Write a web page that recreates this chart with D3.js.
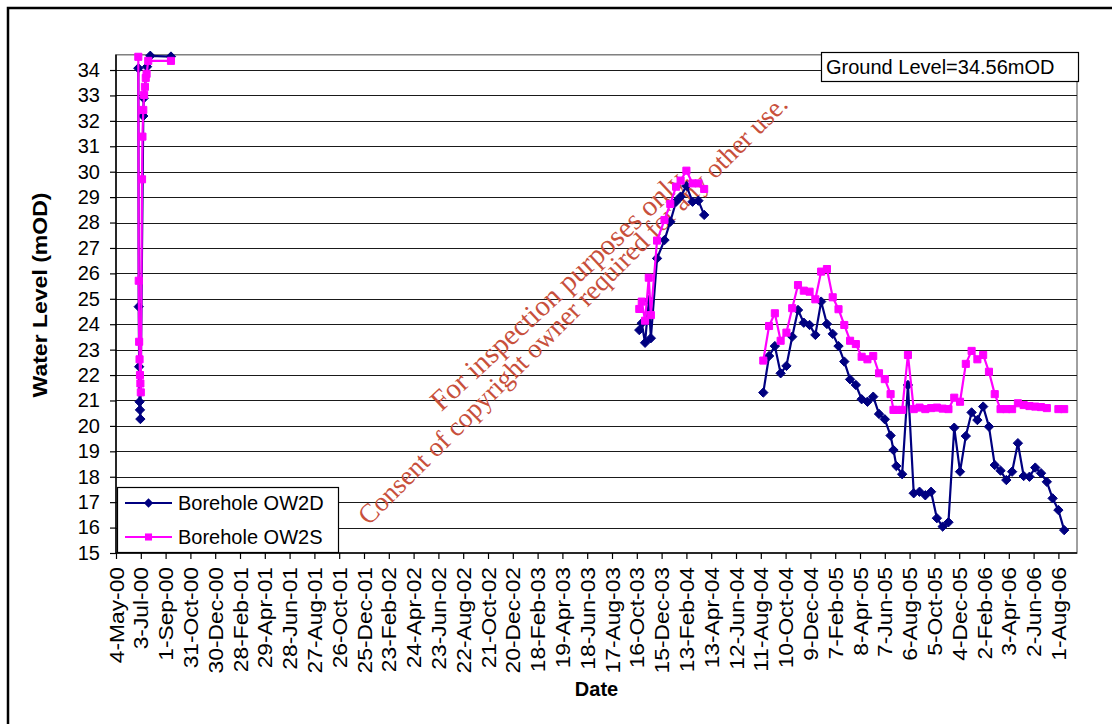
<!DOCTYPE html>
<html>
<head>
<meta charset="utf-8">
<script src="https://cdn.jsdelivr.net/npm/d3@7"></script>
<style>
  html, body { margin: 0; padding: 0; background: #fff; }
  svg { display: block; }
</style>
</head>
<body>
<svg id="chart" width="1112" height="724"></svg>
<script>
// ---------------- DATA ----------------
const xTickLabels = ["4-May-00","3-Jul-00","1-Sep-00","31-Oct-00","30-Dec-00","28-Feb-01","29-Apr-01","28-Jun-01","27-Aug-01","26-Oct-01","25-Dec-01","23-Feb-02","24-Apr-02","23-Jun-02","22-Aug-02","21-Oct-02","20-Dec-02","18-Feb-03","19-Apr-03","18-Jun-03","17-Aug-03","16-Oct-03","15-Dec-03","13-Feb-04","13-Apr-04","12-Jun-04","11-Aug-04","10-Oct-04","9-Dec-04","7-Feb-05","8-Apr-05","7-Jun-05","6-Aug-05","5-Oct-05","4-Dec-05","2-Feb-06","3-Apr-06","2-Jun-06","1-Aug-06"];
const yTicks = [15,16,17,18,19,20,21,22,23,24,25,26,27,28,29,30,31,32,33,34];
const xDomain = ["2000-05-04", "2006-09-15"];
const yDomain = [15, 34.6];

// Borehole OW2D (deep)
const ow2dDates = [
  "2000-06-27","2000-06-28","2000-06-29","2000-06-30","2000-07-01","2000-07-02","2000-07-09","2000-07-10","2000-07-18","2000-07-26","2000-09-14",
  "2002-01-01",
  "2003-10-22","2003-10-28","2003-11-05","2003-11-14","2003-11-19","2003-12-04","2003-12-22","2004-01-05","2004-01-19","2004-01-30","2004-02-13","2004-02-28","2004-03-13","2004-03-27",
  "2004-06-01",
  "2004-08-17","2004-08-31","2004-09-14","2004-09-28","2004-10-12","2004-10-26","2004-11-09","2004-11-23","2004-12-07","2004-12-21",
  "2005-01-04","2005-01-18","2005-02-01","2005-02-15","2005-03-01","2005-03-15","2005-03-29","2005-04-12","2005-04-26","2005-05-10",
  "2005-05-24","2005-06-07","2005-06-21","2005-06-28","2005-07-05","2005-07-19","2005-08-02","2005-08-16","2005-08-30","2005-09-13",
  "2005-09-27","2005-10-11","2005-10-25","2005-11-08","2005-11-22","2005-12-06","2005-12-20","2006-01-03","2006-01-17","2006-01-31",
  "2006-02-14","2006-02-28","2006-03-14","2006-03-28","2006-04-11","2006-04-25","2006-05-09","2006-05-23","2006-06-06","2006-06-20",
  "2006-07-04","2006-07-18","2006-08-01","2006-08-15"
];
const ow2dValues = [
  34.07,24.69,22.33,20.95,20.63,20.27,32.19,32.89,34.13,34.56,34.53,
  null,
  23.77,24.04,23.27,24.95,23.45,26.59,27.31,28.03,28.82,29.02,29.44,28.82,28.86,28.30,
  null,
  21.31,22.75,23.14,22.07,22.36,23.51,24.56,24.06,23.97,23.58,
  24.89,24.01,23.62,23.14,22.53,21.83,21.61,21.05,20.95,21.15,
  20.47,20.26,19.62,19.05,18.42,18.10,21.61,17.35,17.41,17.27,
  17.41,16.37,16.04,16.21,19.93,18.20,19.60,20.53,20.23,20.76,
  19.97,18.46,18.24,17.87,18.20,19.32,18.03,18.00,18.36,18.14,
  17.80,17.15,16.69,15.90
];

// Borehole OW2S (shallow)
const ow2sDates = [
  "2000-06-27","2000-06-28","2000-06-29","2000-06-30","2000-07-01","2000-07-02","2000-07-03","2000-07-06","2000-07-07","2000-07-09","2000-07-11","2000-07-13","2000-07-15","2000-07-17","2000-07-21","2000-09-14",
  "2002-01-01",
  "2003-10-22","2003-10-28","2003-11-05","2003-11-14","2003-11-19","2003-12-04","2003-12-22","2004-01-05","2004-01-19","2004-01-30","2004-02-13","2004-02-28","2004-03-13","2004-03-27",
  "2004-06-01",
  "2004-08-17","2004-08-31","2004-09-14","2004-09-28","2004-10-12","2004-10-26","2004-11-09","2004-11-23","2004-12-07","2004-12-21",
  "2005-01-04","2005-01-18","2005-02-01","2005-02-15","2005-03-01","2005-03-15","2005-03-29","2005-04-12","2005-04-26","2005-05-10",
  "2005-05-24","2005-06-07","2005-06-21","2005-06-28","2005-07-05","2005-07-19","2005-08-02","2005-08-16","2005-08-30","2005-09-13",
  "2005-09-27","2005-10-11","2005-10-25","2005-11-08","2005-11-22","2005-12-06","2005-12-20","2006-01-03","2006-01-17","2006-01-31",
  "2006-02-14","2006-02-28","2006-03-14","2006-03-28","2006-04-11","2006-04-25","2006-05-09","2006-05-23","2006-06-06","2006-06-20",
  "2006-07-04","2006-07-18","2006-08-01","2006-08-15"
];
const ow2sValues = [
  34.52,25.71,23.31,22.62,22.00,21.67,21.32,29.70,31.38,32.43,33.02,33.34,33.69,33.85,34.36,34.36,
  null,
  24.60,24.89,24.14,25.83,24.36,27.29,28.10,28.73,29.41,29.65,30.04,29.54,29.54,29.32,
  null,
  22.57,23.93,24.43,23.35,23.67,24.63,25.54,25.32,25.28,24.98,
  26.07,26.17,25.06,24.59,23.97,23.35,23.22,22.72,22.62,22.75,
  22.07,21.84,21.25,20.63,20.63,20.63,22.79,20.66,20.72,20.66,
  20.70,20.72,20.68,20.66,21.11,20.95,22.44,22.95,22.62,22.79,
  22.13,21.25,20.66,20.66,20.66,20.89,20.82,20.78,20.76,20.74,
  20.70,null,20.66,20.66
];

const seriesNames = ["Borehole OW2D", "Borehole OW2S"];
const seriesColors = ["#000080", "#FF00FF"];
const groundLabel = "Ground Level=34.56mOD";
const xTitle = "Date";
const yTitle = "Water Level (mOD)";
const watermark = ["For inspection purposes only.", "Consent of copyright owner required for any other use."];

// ---------------- DRAW ----------------
const SANS = "Arial, 'Liberation Sans', sans-serif";
const SERIF = "'Times New Roman', 'Liberation Serif', serif";
const svg = d3.select("#chart").style("font-family", SANS);
const parseISO = d3.utcParse("%Y-%m-%d");
const parseTick = d3.utcParse("%d-%b-%y");

const plot = {left: 116, right: 1077, top: 55, bottom: 553};

const x = d3.scaleUtc().domain(xDomain.map(parseISO)).range([plot.left, plot.right]);
const y = d3.scaleLinear().domain(yDomain).range([plot.bottom, plot.bottom - (yDomain[1]-yDomain[0]) * 25.42]);

// outer frame
svg.append("rect").attr("x", 8).attr("y", 8).attr("width", 1200).attr("height", 800)
  .attr("fill", "#fff").attr("stroke", "#000").attr("stroke-width", 2.5);

// plot area border
svg.append("rect").attr("x", plot.left).attr("y", y(yDomain[1]))
  .attr("width", plot.right - plot.left).attr("height", plot.bottom - y(yDomain[1]))
  .attr("fill", "#fff").attr("stroke", "#808080").attr("stroke-width", 1.5);

// gridlines
svg.append("g").selectAll("line").data(yTicks.filter(v => v > yDomain[0])).join("line")
  .attr("x1", plot.left).attr("x2", plot.right)
  .attr("y1", d => Math.round(y(d)) + 0.5).attr("y2", d => Math.round(y(d)) + 0.5)
  .attr("stroke", "#1a1a1a").attr("stroke-width", 1);

// y axis
const yAxis = d3.axisLeft(y).tickValues(yTicks).tickSize(6).tickPadding(10).tickFormat(d3.format("d"));
const gy = svg.append("g").attr("transform", `translate(${plot.left},0)`).call(yAxis);
gy.select(".domain").attr("d", `M0,${plot.bottom}V${y(yDomain[1])}`).attr("stroke", "#000").attr("stroke-width", 1.5);
gy.selectAll(".tick line").attr("stroke", "#000").attr("stroke-width", 1.2);
gy.selectAll(".tick text").attr("font-size", 20).attr("fill", "#000").attr("font-family", SANS);

// x axis
const xTickDates = xTickLabels.map(parseTick);
const xAxis = d3.axisBottom(x).tickValues(xTickDates).tickSize(6).tickFormat((d, i) => xTickLabels[i]);
const gx = svg.append("g").attr("transform", `translate(0,${plot.bottom})`).call(xAxis);
gx.select(".domain").attr("d", `M${plot.left},0H${plot.right}`).attr("stroke", "#000").attr("stroke-width", 1.5);
gx.selectAll(".tick line").attr("stroke", "#000").attr("stroke-width", 1.2);
gx.selectAll(".tick text")
  .attr("font-size", 20).attr("fill", "#000").attr("font-family", SANS)
  .attr("text-anchor", "end")
  .attr("dy", null)
  .attr("y", 0)
  .attr("transform", "translate(7,14) rotate(-90) scale(1.14,1)");

// axis titles
svg.append("text").attr("x", (plot.left + plot.right) / 2).attr("y", 696)
  .attr("text-anchor", "middle").attr("font-size", 20).attr("font-weight", "bold").text(xTitle);
svg.append("text").attr("transform", `translate(47,295) rotate(-90) scale(1.15,1)`)
  .attr("text-anchor", "middle").attr("font-size", 20).attr("font-weight", "bold").text(yTitle);

// watermark
const wm = svg.append("g").attr("fill", "#C8503C").style("font-family", SERIF).attr("font-size", 27);
wm.append("text").attr("transform", "translate(566,296) rotate(-43)").attr("text-anchor", "middle")
  .attr("font-size", 29).text(watermark[0]);
wm.append("text").attr("transform", "translate(579,316) rotate(-45)").attr("text-anchor", "middle").text(watermark[1]);

// series
const series = [
  {dates: ow2dDates, values: ow2dValues, color: seriesColors[0], marker: "diamond"},
  {dates: ow2sDates, values: ow2sValues, color: seriesColors[1], marker: "square"}
];
const line = d3.line().defined(d => d.v != null).x(d => x(d.t)).y(d => y(d.v));
const markerPath = m => m === "diamond"
  ? d3.symbol().type(d3.symbolDiamond2).size(56)()
  : d3.symbol().type(d3.symbolSquare2).size(64)();

series.forEach(s => {
  const pts = s.dates.map((dt, i) => ({t: parseISO(dt), v: s.values[i]}));
  const g = svg.append("g");
  g.append("path").datum(pts).attr("d", line).attr("fill", "none")
    .attr("stroke", s.color).attr("stroke-width", 2.2).attr("stroke-linejoin", "round");
  g.selectAll("path.m").data(pts.filter(d => d.v != null)).join("path").attr("class", "m")
    .attr("transform", d => `translate(${x(d.t)},${y(d.v)})`)
    .attr("d", markerPath(s.marker))
    .attr("fill", s.color).attr("stroke", s.color).attr("stroke-width", 1);
});

// legend
const lg = svg.append("g");
lg.append("rect").attr("x", 117.5).attr("y", 487.5).attr("width", 221).attr("height", 65)
  .attr("fill", "#fff").attr("stroke", "#000").attr("stroke-width", 1.2);
seriesNames.forEach((name, i) => {
  const yy = 503 + i * 34;
  lg.append("line").attr("x1", 125).attr("x2", 172).attr("y1", yy).attr("y2", yy)
    .attr("stroke", seriesColors[i]).attr("stroke-width", 2.2);
  lg.append("path").attr("transform", `translate(148.5,${yy})`)
    .attr("d", markerPath(i === 0 ? "diamond" : "square"))
    .attr("fill", seriesColors[i]);
  lg.append("text").attr("x", 178).attr("y", yy + 7).attr("font-size", 20).text(name);
});

// ground level box
const gb = svg.append("g");
gb.append("rect").attr("x", 821.5).attr("y", 52.5).attr("width", 257).attr("height", 29)
  .attr("fill", "#fff").attr("stroke", "#000").attr("stroke-width", 1.2);
gb.append("text").attr("x", 826).attr("y", 74).attr("font-size", 20).text(groundLabel);
</script>
</body>
</html>
